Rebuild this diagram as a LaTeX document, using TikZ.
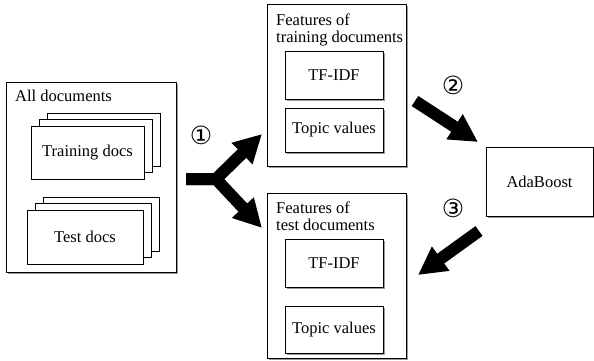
\documentclass[tikz,border=0pt]{standalone}
\usepackage{fontspec}
\setmainfont{Liberation Serif}
\newfontfamily\circFont{DejaVu Sans}
\usetikzlibrary{arrows.meta,shadows}
\newcommand{\bodyFont}{\fontsize{16.5}{16.5}\selectfont}
\definecolor{shadowGray}{HTML}{9A9A9A}
\tikzset{
	box/.style = {draw, fill = white, line width = 0.8pt, inner sep = 0pt, font = \bodyFont,
		drop shadow = {shadow xshift = 1.8pt, shadow yshift = -1.8pt, fill = shadowGray, opacity = 1}},
	stack/.style = {draw, fill = white, line width = 0.8pt, inner sep = 0pt, font = \bodyFont,
		double copy shadow = {shadow xshift = 8.3pt, shadow yshift = 6.5pt}},
	tagText/.style = {inner sep = 0pt, font = \bodyFont, align = left},
	fat/.style = {line width = 12pt, line join = miter, -{Triangle[length = 28pt, width = 28pt]}},
	numMark/.style = {inner sep = 0pt, font = \circFont\fontsize{25}{25}\selectfont}
}

\begin{document}
\begin{tikzpicture}[x = 1pt, y = -1pt]%
		\useasboundingbox (0, 0) rectangle (594, 360);

		% all documents
		\node[box, minimum width = 170pt, minimum height = 190pt] (allDocs) at (91, 177) {};
		\node[tagText, anchor = west] (allTitle) at (15, 96) {All documents};
		\node[stack, minimum width = 113pt, minimum height = 53pt] (trainDocs) at (87.5, 152.5) {Training docs};
		\node[stack, minimum width = 116pt, minimum height = 54pt] (testDocs) at (85, 237) {Test docs};

		% features of training documents
		\node[box, minimum width = 139pt, minimum height = 162pt] (trainFeat) at (336.5, 85) {};
		\node[tagText, anchor = west] (trainTitle) at (276, 30) {Features of\\training documents};
		\node[box, minimum width = 98pt, minimum height = 48pt] (trainTfidf) at (334, 75) {TF-IDF};
		\node[box, minimum width = 98pt, minimum height = 44pt] (trainTopic) at (334, 130) {Topic values};

		% features of test documents
		\node[box, minimum width = 139pt, minimum height = 165pt] (testFeat) at (336.5, 275.5) {};
		\node[tagText, anchor = west] (testTitle) at (276, 216.5) {Features of\\test documents};
		\node[box, minimum width = 98pt, minimum height = 48pt] (testTfidf) at (334, 263) {TF-IDF};
		\node[box, minimum width = 98pt, minimum height = 47pt] (testTopic) at (334, 329.5) {Topic values};

		% classifier
		\node[box, minimum width = 107pt, minimum height = 69pt] (ada) at (539.5, 181.5) {AdaBoost};

		% arrows
		\coordinate (stemStart) at (186, 179);
		\coordinate (fork) at (216, 179);
		\coordinate (trainTip) at (262, 134);
		\coordinate (testTip) at (262, 228);
		\coordinate (trainOut) at (415, 101);
		\coordinate (adaIn) at (478, 142);
		\coordinate (adaOut) at (479, 231);
		\coordinate (testIn) at (418, 275);
		\draw[fat] (stemStart) -- (fork) -- (trainTip);
		\draw[fat] (stemStart) -- (fork) -- (testTip);
		\draw[fat] (trainOut) -- (adaIn);
		\draw[fat] (adaOut) -- (testIn);

		% step numbers
		\node[numMark] (stepOne) at (201, 135) {①};
		\node[numMark] (stepTwo) at (453, 85) {②};
		\node[numMark] (stepThree) at (453, 208) {③};

	\end{tikzpicture}
\end{document}
